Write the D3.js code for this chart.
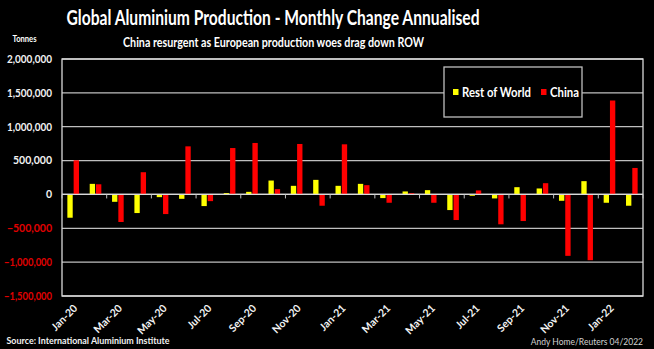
<!DOCTYPE html>
<html><head><meta charset="utf-8">
<script src="https://cdn.jsdelivr.net/npm/d3@7"></script>
<style>
html,body{margin:0;padding:0;background:#000;}
svg{display:block;font-family:Lato,"Open Sans",sans-serif;}
</style></head>
<body>
<svg id="c" width="654" height="349"></svg>
<script>
const months = ["Jan-20","Feb-20","Mar-20","Apr-20","May-20","Jun-20","Jul-20","Aug-20","Sep-20","Oct-20","Nov-20","Dec-20",
  "Jan-21","Feb-21","Mar-21","Apr-21","May-21","Jun-21","Jul-21","Aug-21","Sep-21","Oct-21","Nov-21","Dec-21","Jan-22","Feb-22"];
const restOfWorld = [-344000,156000,-109000,-275000,-40000,-65000,-172000,20000,38000,205000,127000,215000,
  127000,156000,-54000,44000,63000,-231000,-20000,-59000,107000,88000,-94000,196000,-123000,-167000];
const china = [504000,150000,-407000,328000,-290000,710000,-99000,685000,760000,78000,745000,-167000,
  740000,137000,-123000,19000,-123000,-378000,59000,-441000,-393000,166000,-907000,-971000,1387000,391000];
const yTicks = [-1500000,-1000000,-500000,0,500000,1000000,1500000,2000000];
const seriesNames = ["Rest of World","China"];
const seriesColors = ["#ffff00","#ff0000"];

const svg = d3.select("#c");
const W = 654, H = 349;
const m = {left:62, right:11, top:59, bottom:53};
const pw = W - m.left - m.right, ph = H - m.top - m.bottom;

svg.append("rect").attr("width",W).attr("height",H).attr("fill","#000");

function fit(sel, target){
  sel.each(function(){
    const len = this.getComputedTextLength();
    if (len > target) { d3.select(this).attr("textLength", target).attr("lengthAdjust","spacingAndGlyphs"); }
  });
}

// Titles
svg.append("text").attr("x",273).attr("y",25).attr("text-anchor","middle")
  .attr("fill","#fff").attr("font-weight","bold").attr("font-size",20)
  .text("Global Aluminium Production - Monthly Change Annualised").call(fit, 413);
svg.append("text").attr("x",273.5).attr("y",47).attr("text-anchor","middle")
  .attr("fill","#fff").attr("font-weight","bold").attr("font-size",14)
  .text("China resurgent as European production woes drag down ROW").call(fit, 301);
svg.append("text").attr("x",24.5).attr("y",41.5).attr("text-anchor","middle")
  .attr("fill","#fff").attr("font-weight","bold").attr("font-size",10)
  .text("Tonnes").call(fit, 24);

const x0 = d3.scaleBand().domain(months).range([m.left, m.left+pw]).paddingInner(0.48).paddingOuter(0.24);
const x1 = d3.scaleBand().domain(seriesNames).range([0, x0.bandwidth()]).paddingInner(0.15);
const y = d3.scaleLinear().domain([-1500000, 2000000]).range([m.top+ph, m.top]);

// Gridlines
const g = svg.append("g");
g.selectAll("line.grid").data(yTicks).join("line")
  .attr("x1", m.left).attr("x2", m.left+pw)
  .attr("y1", d=>y(d)).attr("y2", d=>y(d))
  .attr("stroke", d => d===0 ? "#d9d9d9" : "#bfbfbf").attr("stroke-width",1.3);
// frame
g.append("rect").attr("x",m.left).attr("y",m.top).attr("width",pw).attr("height",ph)
  .attr("fill","none").attr("stroke","#d9d9d9").attr("stroke-width",1.3);

// Y axis labels
const yAxis = d3.axisLeft(y).tickValues(yTicks).tickSize(0).tickPadding(10).tickFormat(d3.format(","));
const ya = svg.append("g").attr("transform",`translate(${m.left},0)`).call(yAxis);
ya.select(".domain").remove();
ya.selectAll("text").attr("font-family","Lato,sans-serif").attr("font-weight","bold").attr("font-size",10.5)
  .attr("fill", d => d<0 ? "#e00000" : "#f2f2f2")
  .each(function(d){ d3.select(this).call(fit, d<0 ? 48 : 45); });

// Bars
const data = months.map((mo,i)=>({mo, vals:[restOfWorld[i], china[i]]}));
const groups = svg.append("g").selectAll("g").data(data).join("g")
  .attr("transform", d=>`translate(${x0(d.mo)},0)`);
groups.selectAll("rect").data(d=>d.vals.map((v,k)=>({v,k}))).join("rect")
  .attr("x", d=>x1(seriesNames[d.k]))
  .attr("width", x1.bandwidth())
  .attr("y", d=>y(Math.max(0,d.v)))
  .attr("height", d=>Math.abs(y(d.v)-y(0)))
  .attr("fill", d=>seriesColors[d.k]);

// zero axis line with ticks
svg.append("line").attr("x1",m.left).attr("x2",m.left+pw).attr("y1",y(0)).attr("y2",y(0))
  .attr("stroke","#d9d9d9").attr("stroke-width",1.3);
const step = x0.step();
const tickIdx = d3.range(0, months.length+1, 2);
svg.append("g").selectAll("line").data(tickIdx).join("line")
  .attr("x1", i=>m.left + i*step).attr("x2", i=>m.left + i*step)
  .attr("y1", y(0)).attr("y2", y(0)+4)
  .attr("stroke","#bfbfbf").attr("stroke-width",1);

// X labels
svg.append("g").selectAll("text").data(months.filter((d,i)=>i%2===0)).join("text")
  .attr("transform", d=>`translate(${x0(d)+x0.bandwidth()/2+5},${m.top+ph+13}) rotate(-45)`)
  .attr("text-anchor","end").attr("font-weight","bold").attr("font-size",10.5)
  .attr("fill","#f2f2f2").text(d=>d);

// Legend
const lg = svg.append("g");
lg.append("rect").attr("x",444).attr("y",67).attr("width",138).attr("height",50)
  .attr("fill","#000").attr("stroke","#bfbfbf").attr("stroke-width",1.3);
const legX = [453, 541], legW = [69, 29];
seriesNames.forEach((s,k)=>{
  lg.append("rect").attr("x",legX[k]).attr("y",89).attr("width",5.5).attr("height",6).attr("fill",seriesColors[k]);
  lg.append("text").attr("x",legX[k]+9).attr("y",96.5).attr("fill","#fff")
    .attr("font-weight","bold").attr("font-size",13).text(s).call(fit, legW[k]);
});

// Footer
svg.append("text").attr("x",6.5).attr("y",344).attr("fill","#f2f2f2").attr("font-weight","bold")
  .attr("font-size",9).text("Source: International Aluminium Institute").call(fit, 163);
svg.append("text").attr("x",643).attr("y",344.5).attr("text-anchor","end").attr("fill","#d0d0d0")
  .attr("font-size",8.5).text("Andy Home/Reuters 04/2022");
</script>
</body></html>
